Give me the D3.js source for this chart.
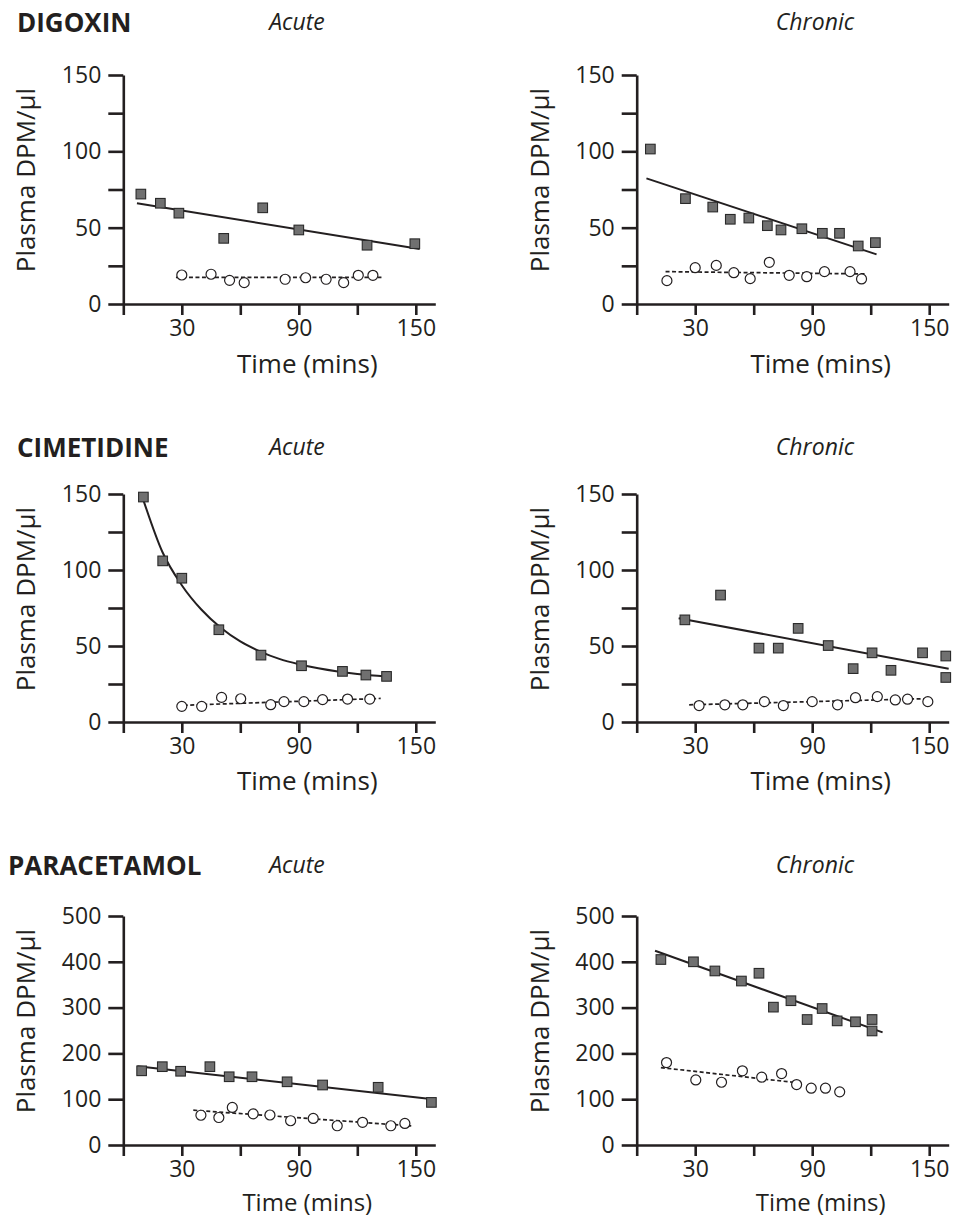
<!DOCTYPE html>
<html>
<head>
<meta charset="utf-8">
<script src="https://cdn.jsdelivr.net/npm/d3@7"></script>
<style>
  body { margin: 0; background: #fff; }
  text { font-family: 'Open Sans', sans-serif; fill: #231f20; }
  .drug { font-weight: bold; font-size: 26px; }
  .cond { font-style: italic; font-size: 23px; }
  .tick text { font-size: 23px; }
  .axis-title { font-size: 26px; }
</style>
</head>
<body>
<div id="chart"></div>
<script>
// Multi-panel plasma DPM chart

// Tick values
const xTicks = [0, 30, 60, 90, 120, 150]
const xLabels = [30, 90, 150]
const yTicksLow = [0, 25, 50, 75, 100, 125, 150]
const yLabelsLow = [0, 50, 100, 150]
const yTicksHigh = [0, 100, 200, 300, 400, 500]
const yLabelsHigh = [0, 100, 200, 300, 400, 500]

const drugs = ['DIGOXIN', 'CIMETIDINE', 'PARACETAMOL']
const conditions = ['Acute', 'Chronic']

// Digoxin - acute
const digAcuteFilled = [[9, 72], [19, 66], [28.5, 59.5], [51.5, 43], [71.5, 63], [90, 48.5], [125, 38.5], [149.5, 39.5]]
const digAcuteOpen = [[30, 19], [45, 19.5], [54.5, 15.5], [62, 14], [83, 16.2], [93.5, 17.2], [104, 16.2], [113, 14], [120.5, 18.8], [128, 18.8]]
const digAcuteFit = [[7, 66], [152, 36]]
const digAcuteFitOpen = [[27, 17.5], [133, 17.5]]

// Digoxin - chronic
const digChronicFilled = [[7, 101.5], [25, 69], [39, 63.5], [48, 55.5], [57.5, 56.3], [67, 51.3], [74, 48.5], [84.7, 49.3], [95.2, 46.3], [104, 46.3], [113.6, 38], [122.4, 40.2]]
const digChronicOpen = [[15.5, 15.3], [30, 23.8], [40.8, 25.3], [49.8, 20.5], [58.2, 16.6], [68, 27.3], [78.2, 18.8], [87.2, 17.9], [96.3, 21.2], [109.4, 21.2], [115.3, 16.4]]
const digChronicFit = [[5, 82.3], [123, 32.5]]
const digChronicFitOpen = [[14.8, 21.2], [117.3, 19.7]]

// Cimetidine - acute
const cimAcuteFilled = [[10.3, 148], [20.2, 106], [30, 94.6], [49, 60.7], [70.6, 44], [91.4, 37], [112.4, 33.3], [124.4, 30.9], [135, 30]]
const cimAcuteOpen = [[30, 10.3], [40.2, 10.3], [50.4, 16.2], [60.2, 15.3], [75.6, 11.4], [82.4, 13.4], [92.6, 13.4], [102.2, 14.7], [115, 15.1], [126.4, 15.1]]
const cimAcuteFit = [[10.3, 146], [20, 112], [30, 90], [40, 74], [50, 62], [60, 53], [70, 46.5], [80, 41.5], [90, 38], [100, 35.3], [110, 33.2], [120, 31.6], [135, 30]]
const cimAcuteFitOpen = [[31, 11], [132, 15.5]]

// Cimetidine - chronic
const cimChronicFilled = [[24.7, 67.2], [43, 83.5], [62.7, 48.6], [72.6, 48.6], [82.8, 61.6], [98.2, 50.3], [111, 35.1], [120.7, 45.5], [130.4, 34], [146.6, 45.5], [158.5, 43.4], [158.5, 29.3]]
const cimChronicOpen = [[32, 10.8], [45.2, 11.3], [54.4, 11.3], [65.5, 13.4], [75.2, 10.8], [90, 13.4], [103, 11.3], [112.2, 16], [123.4, 16.7], [132.6, 14.5], [138.9, 15], [149.3, 13.4]]
const cimChronicFit = [[21.5, 68.3], [160, 35.1]]
const cimChronicFitOpen = [[26.9, 11.3], [149.6, 15.4]]

// Paracetamol - acute
const parAcuteFilled = [[9.4, 162], [20, 171], [29.4, 161], [44.4, 171], [54.3, 149], [66, 149], [84, 138], [102.2, 131], [130.7, 126], [158, 93]]
const parAcuteOpen = [[39.8, 65], [49, 60], [55.9, 82], [66.6, 68], [75.2, 65.5], [85.8, 53], [97.4, 58], [109.7, 42], [122.7, 49.5], [137.2, 42], [144.4, 47]]
const parAcuteFit = [[7.2, 172], [158.9, 100]]
const parAcuteFitOpen = [[35.9, 76], [148.3, 41.5]]

// Paracetamol - chronic
const parChronicFilled = [[12.4, 405], [29.1, 400], [40.1, 380], [53.7, 358], [62.7, 375], [70.1, 301], [79.1, 315], [87.4, 274], [95.1, 298], [102.8, 271], [112.2, 269], [120.7, 274], [120.7, 249]]
const parChronicOpen = [[15.3, 180], [30.3, 142], [43.5, 137], [54.2, 162], [64.1, 148], [74.3, 156], [82, 132], [89.5, 124], [96.8, 124], [104.1, 116]]
const parChronicFit = [[9.4, 424], [126.1, 246]]
const parChronicFitOpen = [[12.4, 169], [80, 137]]

// Panels (row = drug, col = condition)
const panels = [
  { row: 0, col: 0, filled: digAcuteFilled, open: digAcuteOpen, fit: digAcuteFit, fitOpen: digAcuteFitOpen, curved: false },
  { row: 0, col: 1, filled: digChronicFilled, open: digChronicOpen, fit: digChronicFit, fitOpen: digChronicFitOpen, curved: false },
  { row: 1, col: 0, filled: cimAcuteFilled, open: cimAcuteOpen, fit: cimAcuteFit, fitOpen: cimAcuteFitOpen, curved: true },
  { row: 1, col: 1, filled: cimChronicFilled, open: cimChronicOpen, fit: cimChronicFit, fitOpen: cimChronicFitOpen, curved: false },
  { row: 2, col: 0, filled: parAcuteFilled, open: parAcuteOpen, fit: parAcuteFit, fitOpen: parAcuteFitOpen, curved: false },
  { row: 2, col: 1, filled: parChronicFilled, open: parChronicOpen, fit: parChronicFit, fitOpen: parChronicFitOpen, curved: false }
]

// Layout
const width = 955
const height = 1218
const colX = [123.3, 636.7]
const rowTop = [75, 494, 916]
const rowBottom = [304, 722, 1145]
const titleY = [32, 457, 875]
const xTitleGap = [69, 68, 66]
const xTitleSize = [26, 26, 24]
const drugX = [17, 17, 8]
const condX = [297, 815]

const svg = d3.select('#chart')
  .append('svg')
  .attr('width', width)
  .attr('height', height)

// Row and column titles
drugs.forEach((name, i) => {
  svg.append('text')
    .attr('class', 'drug')
    .attr('x', drugX[i])
    .attr('y', titleY[i])
    .text(name)
  conditions.forEach((c, j) => {
    svg.append('text')
      .attr('class', 'cond')
      .attr('x', condX[j])
      .attr('y', titleY[i] - 2)
      .attr('text-anchor', 'middle')
      .text(c)
  })
})

panels.forEach((p) => {
  const x0 = colX[p.col]
  const high = p.row === 2
  const xScale = d3.scaleLinear()
    .domain([0, 160])
    .range([x0, x0 + 312])
  const yScale = d3.scaleLinear()
    .domain([0, high ? 500 : 150])
    .range([rowBottom[p.row], rowTop[p.row]])

  const g = svg.append('g')

  // Axes
  const labels = high ? yLabelsHigh : yLabelsLow
  const yAxis = g.append('g')
    .attr('transform', `translate(${x0}, 0)`)
    .call(d3.axisLeft(yScale)
      .tickValues(high ? yTicksHigh : yTicksLow)
      .tickSize(15)
      .tickSizeOuter(0)
      .tickPadding(7)
      .tickFormat((d) => labels.includes(d) ? d : ''))
  const xAxis = g.append('g')
    .attr('transform', `translate(0, ${rowBottom[p.row]})`)
    .call(d3.axisBottom(xScale)
      .tickValues(xTicks)
      .tickSize(11)
      .tickSizeOuter(0)
      .tickPadding(5)
      .tickFormat((d) => xLabels.includes(d) ? d : ''))
  ;[xAxis, yAxis].forEach((a) => {
    a.selectAll('path, line')
      .attr('stroke', '#231f20')
      .attr('stroke-width', 2.6)
    a.selectAll('text').attr('fill', '#231f20')
  })

  // Axis titles
  g.append('text')
    .attr('class', 'axis-title')
    .attr('x', x0 + 184)
    .attr('y', rowBottom[p.row] + xTitleGap[p.row])
    .attr('text-anchor', 'middle')
    .style('font-size', xTitleSize[p.row] + 'px')
    .text('Time (mins)')
  g.append('text')
    .attr('class', 'axis-title')
    .attr('transform', `translate(${x0 - 88}, ${rowTop[p.row] + 105}) rotate(-90)`)
    .attr('text-anchor', 'middle')
    .text('Plasma DPM/\u00b5l')

  // Fit lines
  const line = d3.line()
    .x((d) => xScale(d[0]))
    .y((d) => yScale(d[1]))
    .curve(p.curved ? d3.curveMonotoneX : d3.curveLinear)
  g.append('path')
    .datum(p.fit)
    .attr('d', line)
    .attr('fill', 'none')
    .attr('stroke', '#231f20')
    .attr('stroke-width', 2)
  g.append('path')
    .datum(p.fitOpen)
    .attr('d', d3.line().x((d) => xScale(d[0])).y((d) => yScale(d[1])))
    .attr('fill', 'none')
    .attr('stroke', '#231f20')
    .attr('stroke-width', 1.7)
    .attr('stroke-dasharray', '4,2.5')

  // Open circles
  g.selectAll('circle')
    .data(p.open)
    .enter().append('circle')
    .attr('cx', (d) => xScale(d[0]))
    .attr('cy', (d) => yScale(d[1]))
    .attr('r', 5)
    .attr('fill', '#fff')
    .attr('stroke', '#231f20')
    .attr('stroke-width', 1.2)

  // Filled squares
  g.selectAll('rect.sq')
    .data(p.filled)
    .enter().append('rect')
    .attr('class', 'sq')
    .attr('x', (d) => xScale(d[0]) - 4.8)
    .attr('y', (d) => yScale(d[1]) - 4.8)
    .attr('width', 9.6)
    .attr('height', 9.6)
    .attr('fill', '#707070')
    .attr('stroke', '#2a2a2a')
    .attr('stroke-width', 1.1)
})
</script>
</body>
</html>
